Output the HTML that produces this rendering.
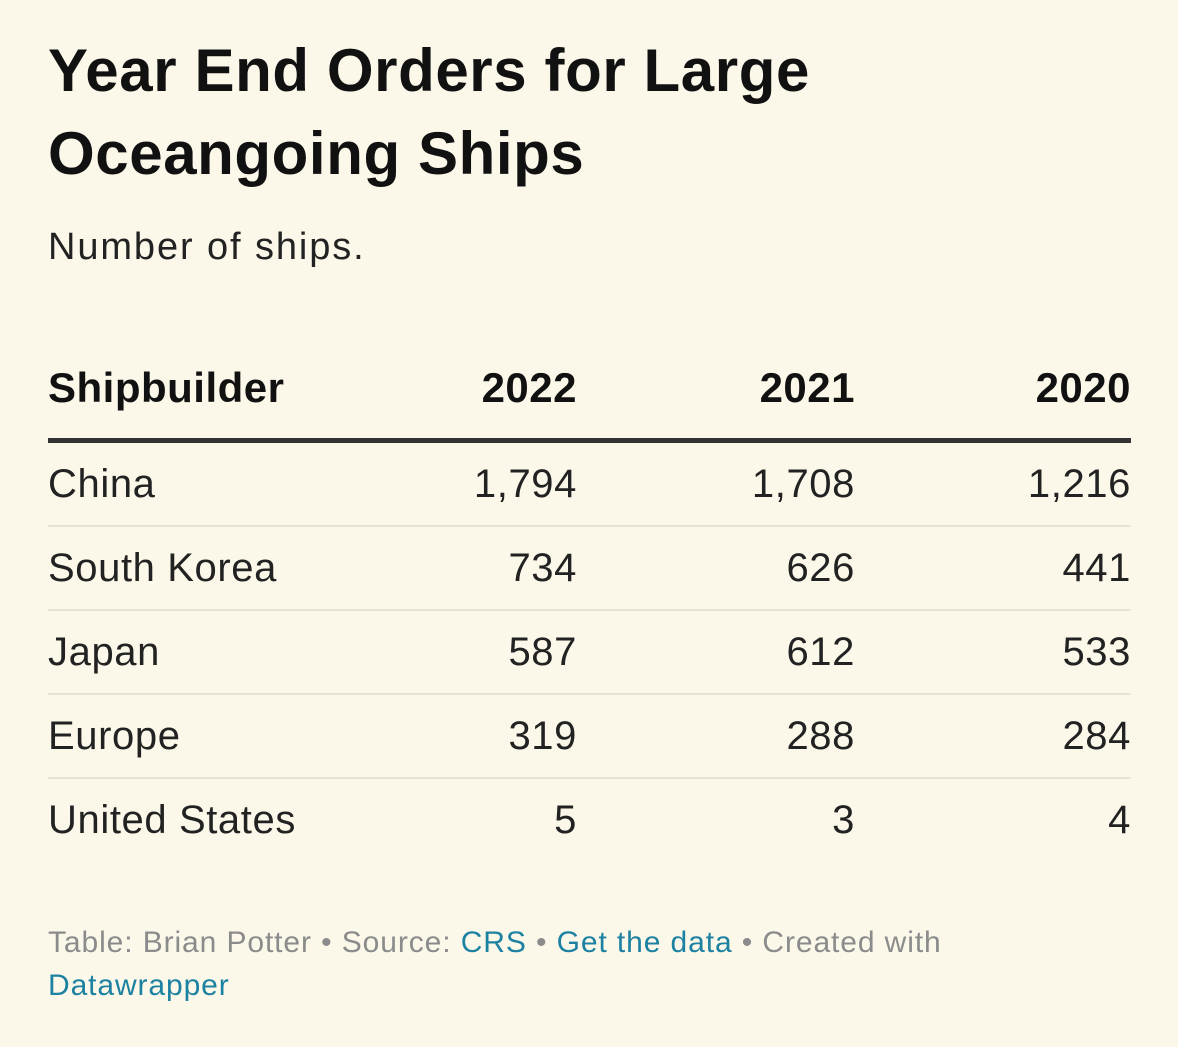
<!DOCTYPE html>
<html>
<head>
<meta charset="utf-8">
<style>
  html,body{margin:0;padding:0;}
  body{width:1178px;height:1047px;background:#fbf8ea;font-family:"Liberation Sans",Arial,sans-serif;color:#1a1a1a;position:relative;overflow:hidden;}
  .abs{position:absolute;}
  #title{left:48px;top:29px;font-size:60px;font-weight:bold;line-height:83px;color:#111;letter-spacing:0.6px;white-space:nowrap;}
  #subtitle{left:48px;top:224px;font-size:38px;line-height:46px;color:#222;letter-spacing:1.9px;}
  table{position:absolute;left:48px;top:350px;width:1083px;border-collapse:collapse;}
  th{font-size:42px;font-weight:bold;height:76px;padding:0 0 12px 0;vertical-align:middle;border-bottom:5px solid #333;color:#111;letter-spacing:0.5px;}
  td{font-size:40px;height:82px;padding:0;vertical-align:middle;border-bottom:2px solid #e7e4d6;color:#222;letter-spacing:0.6px;}
  tr:last-child td{border-bottom:none;}
  .l{text-align:left;}
  .r{text-align:right;}
  #footer{left:48px;top:921px;font-size:30px;line-height:43px;color:#8b8b8b;width:1000px;letter-spacing:0.9px;}
  #footer a{color:#1d81a2;text-decoration:none;}
</style>
</head>
<body>
<div id="title" class="abs">Year End Orders for Large<br>Oceangoing Ships</div>
<div id="subtitle" class="abs">Number of ships.</div>
<table>
  <colgroup><col style="width:330px"><col style="width:199px"><col style="width:278px"><col style="width:276px"></colgroup>
  <tr>
    <th class="l">Shipbuilder</th>
    <th class="r">2022</th>
    <th class="r">2021</th>
    <th class="r">2020</th>
  </tr>
  <tr><td class="l">China</td><td class="r">1,794</td><td class="r">1,708</td><td class="r">1,216</td></tr>
  <tr><td class="l">South Korea</td><td class="r">734</td><td class="r">626</td><td class="r">441</td></tr>
  <tr><td class="l">Japan</td><td class="r">587</td><td class="r">612</td><td class="r">533</td></tr>
  <tr><td class="l">Europe</td><td class="r">319</td><td class="r">288</td><td class="r">284</td></tr>
  <tr><td class="l">United States</td><td class="r">5</td><td class="r">3</td><td class="r">4</td></tr>
</table>
<div id="footer" class="abs">Table: Brian Potter • Source: <a>CRS</a> • <a>Get the data</a> • Created with<br><a>Datawrapper</a></div>
</body>
</html>
